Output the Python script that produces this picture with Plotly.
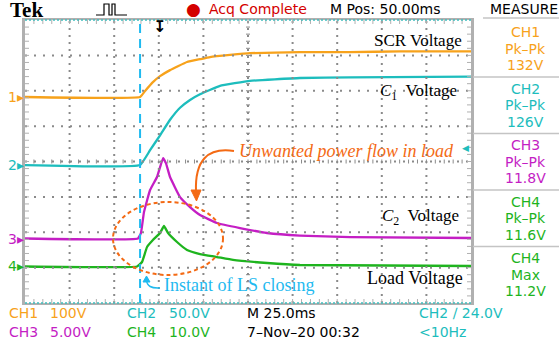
import plotly.graph_objects as go

# ---------------- data (time in ms, voltages in V) ----------------
t_ch1 = [0, 64.5, 67.3, 71.7, 75.7, 81.3, 90.8, 98.1, 103.7, 114.9, 126.1, 154.1, 182.2, 210.2, 250]
v_ch1 = [0, 0, 17, 42, 59, 76, 99, 107, 113, 119, 124, 127, 127, 129, 129]

t_ch2 = [0, 64.5, 70.1, 75.7, 81.3, 86.9, 92.5, 98.1, 109.3, 126.1, 154.1, 182.2, 250]
v_ch2 = [0, 0, 21, 42, 64, 81, 92, 100, 112, 119, 123, 124, 125]

t_ch3 = [0, 63.3, 65.0, 66.7, 70.1, 74.0, 77.4, 79.0, 81.3, 86.9, 92.5, 98.1, 107.6, 120.5, 135.7, 154.1, 182.2, 250]
v_ch3 = [0, 0, 0.78, 3.74, 6.85, 8.69, 11.37, 10.66, 8.69, 5.86, 4.45, 3.32, 2.19, 1.48, 0.78, 0.42, 0.21, 0.07]

t_ch4 = [0, 62.8, 65.6, 68.4, 71.7, 75.7, 77.9, 80.2, 85.2, 90.8, 98.1, 107.6, 116.6, 135.7, 154.1, 250]
v_ch4 = [0, 0, 1.27, 5.5, 7.49, 9.46, 11.44, 9.46, 6.92, 4.66, 3.53, 2.68, 1.84, 0.99, 0.42, 0.14]

t_instant = [64.5]  # LS closing instant, ms

channels = ["CH1", "CH2", "CH3", "CH4"]
volts_per_div = [100, 50, 5, 10]
offset_div = [1.823, -0.1, -2.177, -2.968]
colors = ["#f7a21b", "#1dbdbd", "#c41ec4", "#1eb41e"]

measure_names = ["CH1", "CH2", "CH3", "CH4", "CH4"]
measure_types = ["Pk\u2013Pk", "Pk\u2013Pk", "Pk\u2013Pk", "Pk\u2013Pk", "Max"]
measure_vals = ["132V", "126V", "11.8V", "11.6V", "11.2V"]
measure_cols = [colors[0], colors[1], colors[2], colors[3], colors[3]]

scale_labels = ["100V", "50.0V", "5.00V", "10.0V"]

# ---------------- layout geometry ----------------
W, H = 559, 349
L, R, T, B = 25, 88, 20, 46
PW, PH = W - L - R, H - T - B
XDIV_MS, NXDIV, NYDIV = 25, 10, 8


def px(x):
    return (x - L) / PW


def py(y):
    return (H - B - y) / PH


ORANGE = "#f46a14"
SKY = "#1fbaf0"
SANS = "DejaVu Sans"
SERIF = "Liberation Serif"

fig = go.Figure()
series = [(t_ch1, v_ch1), (t_ch2, v_ch2), (t_ch3, v_ch3), (t_ch4, v_ch4)]
for (t, v), name, s, o, c in zip(series, channels, volts_per_div, offset_div, colors):
    fig.add_trace(go.Scatter(
        x=t, y=[o + vv / s for vv in v], mode="lines", name=name,
        line=dict(color=c, width=2.3, shape="spline", smoothing=0.3),
        showlegend=False, hoverinfo="skip"))

ann = []


def text(s, x, y, color="black", size=14, family=SANS, xa="left", ya="middle", **kw):
    ann.append(dict(text=s, x=px(x), y=py(y), xref="paper", yref="paper",
                    xanchor=xa, yanchor=ya, showarrow=False,
                    font=dict(color=color, size=size, family=family), **kw))


# header
text("<b>Tek</b>", 8, 10, size=21, family=SERIF)
text("\u25cf", 193, 9, color="#d40000", size=17, xa="center")
text("Acq Complete", 207, 9, color="#d40000")
text("M Pos: 50.00ms", 328, 9)
text("MEASURE", 488, 9)

# curve labels
text("SCR Voltage", 464, 41, size=17, family=SERIF, xa="right")
text("<i>C</i><sub>1</sub>&nbsp; Voltage", 459, 92, size=17, family=SERIF, xa="right")
text("<i>C</i><sub>2</sub>&nbsp; Voltage", 461, 217, size=17, family=SERIF, xa="right")
text("Load Voltage", 465, 278, size=18, family=SERIF, xa="right")
text("<i>Unwanted power flow in load</i>", 237, 151, color=ORANGE, size=18, family=SERIF)
text("Instant of LS closing", 162, 285, color=SKY, size=18, family=SERIF)

# channel ground markers
for name, o, c in zip(channels, offset_div, colors):
    ypix = T + (4 - o) * PH / 8
    text(name[-1] + "\u25b8", 6, ypix, color=c, size=14)

# trigger markers
text("\u25c0", 471, 148, color=colors[1], size=9, xa="right")
text("<b>\u21a7</b>", 159, 26, size=16, xa="center")

# measurement panel
for i, (n, ty, vl, c) in enumerate(zip(measure_names, measure_types, measure_vals, measure_cols)):
    y0 = 32 + i * 56.5
    text(n, 525, y0, color=c, xa="center")
    text(ty, 525, y0 + 16.5, color=c, xa="center")
    text(vl, 525, y0 + 33, color=c, xa="center")

# footer
text(channels[0], 7, 313, color=colors[0])
text(scale_labels[0], 48, 313, color=colors[0])
text(channels[1], 125, 313, color=colors[1])
text(scale_labels[1], 167, 313, color=colors[1])
text("M 25.0ms", 245, 313)
text("CH2 \u2215 24.0V", 417, 313, color=colors[1])
text(channels[2], 7, 332, color=colors[2])
text(scale_labels[2], 48, 332, color=colors[2])
text(channels[3], 125, 332, color=colors[3])
text(scale_labels[3], 167, 332, color=colors[3])
text("7\u2013Nov\u201320 00:32", 245, 332)
text("&lt;10Hz", 417, 332, color=colors[1])

shapes = []
GRID = "#8a8a8a"
EDGE = "#b0b0b0"
ydiv_px = PH / NYDIV
# dotted graticule
for k in range(1, NXDIV):
    xv = k * XDIV_MS
    shapes.append(dict(type="line", xref="x", yref="paper", x0=xv, x1=xv, y0=0, y1=1, layer="above",
                       line=dict(color=GRID, width=2, dash="2px,5px")))
for k in range(1, NYDIV):
    yv = -4 + k
    shapes.append(dict(type="line", xref="paper", yref="y", x0=0, x1=1, y0=yv, y1=yv, layer="above",
                       line=dict(color=GRID, width=2, dash="2px,7px")))
# minor ticks on centre cross and on edges
for k in range(1, NYDIV * 5):
    yv = -4 + k * 0.2
    for xc, half in ((125, 2), (0, 4), (250, 4)):
        dx = half / PW * 250
        shapes.append(dict(type="line", xref="x", yref="y", x0=max(0, xc - dx), x1=min(250, xc + dx),
                           y0=yv, y1=yv, layer="above",
                           line=dict(color=EDGE if xc != 125 else GRID, width=1)))
for k in range(1, NXDIV * 5):
    xv = k * XDIV_MS / 5
    for yc, half in ((0, 2), (-4, 4), (4, 4)):
        dy = half / ydiv_px
        shapes.append(dict(type="line", xref="x", yref="y", x0=xv, x1=xv, y0=max(-4, yc - dy),
                           y1=min(4, yc + dy), layer="above",
                           line=dict(color=EDGE if yc != 0 else GRID, width=1)))
# dotted teal top/bottom borders
for yy in (T, H - B):
    shapes.append(dict(type="line", xref="paper", yref="paper", x0=0, x1=1, y0=py(yy), y1=py(yy),
                       line=dict(color="#3fbfbf", width=1.5, dash="2px,2px"), layer="above"))
# measure panel separators
for yy in (18, 77, 133.5, 190, 246.5):
    x0 = 483 if yy == 18 else 473
    shapes.append(dict(type="line", xref="paper", yref="paper", x0=px(x0), x1=px(559), y0=py(yy), y1=py(yy),
                       line=dict(color="#c4c4c4", width=1.5)))
# LS closing instant
for ti in t_instant:
    shapes.append(dict(type="line", xref="x", yref="paper", x0=ti, x1=ti, y0=0, y1=1,
                       line=dict(color=SKY, width=2, dash="9px,6px"), layer="above"))
# dashed ellipse
shapes.append(dict(type="circle", xref="paper", yref="paper", x0=px(113), x1=px(223), y0=py(275), y1=py(202),
                   line=dict(color=ORANGE, width=2, dash="4px,3px"), layer="above"))


def path(pts, close=False):
    s = "M " + " L ".join(f"{px(a):.5f},{py(b):.5f}" for a, b in pts)
    return s + (" Z" if close else "")


def qpath(p0, c, p1):
    return f"M {px(p0[0]):.5f},{py(p0[1]):.5f} Q {px(c[0]):.5f},{py(c[1]):.5f} {px(p1[0]):.5f},{py(p1[1]):.5f}"


# orange curved arrow
shapes.append(dict(type="path", xref="paper", yref="paper",
                   path=qpath((234, 151), (194, 145), (196, 192)),
                   line=dict(color=ORANGE, width=2)))
shapes.append(dict(type="path", xref="paper", yref="paper",
                   path=path([(191, 190), (201, 190), (196.5, 201)], close=True),
                   fillcolor=ORANGE, line=dict(color=ORANGE, width=1)))
# small sky arrow
shapes.append(dict(type="path", xref="paper", yref="paper",
                   path=qpath((160, 288), (147, 289), (146.5, 280)),
                   line=dict(color=SKY, width=1.5)))
shapes.append(dict(type="path", xref="paper", yref="paper",
                   path=path([(143, 282), (150, 282), (146.5, 276)], close=True),
                   fillcolor=SKY, line=dict(color=SKY, width=1)))
# trigger pulse icon in header
shapes.append(dict(type="path", xref="paper", yref="paper",
                   path=path([(96, 15), (104, 15), (104, 4), (109, 4), (109, 15), (112, 15), (112, 4),
                              (115, 4), (115, 15), (127, 15)]),
                   line=dict(color="black", width=1.2)))

fig.update_layout(
    width=W, height=H, margin=dict(l=L, r=R, t=T, b=B),
    paper_bgcolor="white", plot_bgcolor="white",
    annotations=ann, shapes=shapes, showlegend=False,
    xaxis=dict(range=[0, 250], showticklabels=False, zeroline=False, showgrid=False,
               showline=True, linecolor=EDGE, linewidth=2, mirror=True, ticks=""),
    yaxis=dict(range=[-4, 4], showticklabels=False, zeroline=False, showgrid=False,
               showline=True, linecolor=EDGE, linewidth=2.5, mirror=True, ticks=""),
)

fig.write_html("out.html")
